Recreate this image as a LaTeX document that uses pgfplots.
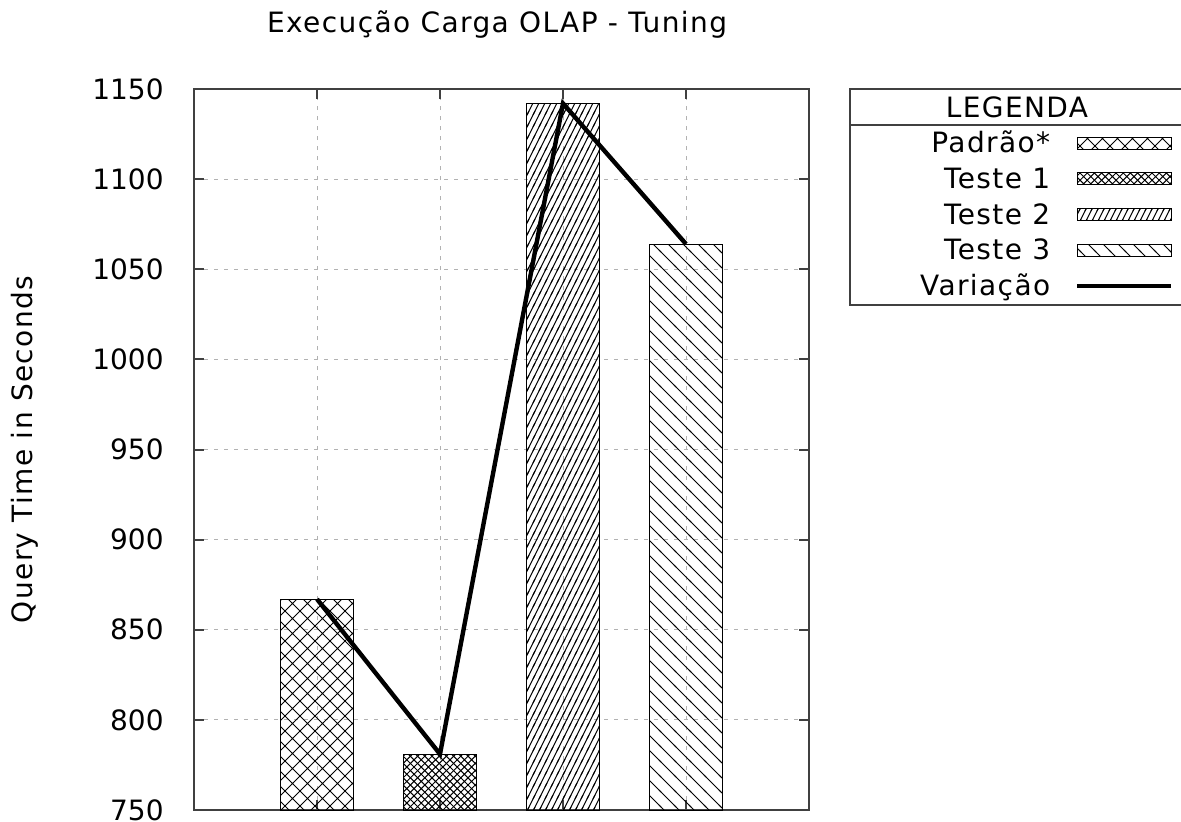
\documentclass[border=0pt]{standalone}
\usepackage{fontspec}
\setmainfont{DejaVu Sans}
\newfontfamily\spaced{DejaVu Sans}[LetterSpace=5]
\usepackage{pgfplots}
\pgfplotsset{compat=1.18}
\usetikzlibrary{patterns}

% hatch patterns, gnuplot style
\pgfdeclarepatternformonly{xwide}{\pgfqpoint{-1pt}{-1pt}}{\pgfqpoint{8.5pt}{8.5pt}}{\pgfqpoint{7.5pt}{7.5pt}}{%
  \pgfsetlinewidth{0.5pt}%
  \pgfpathmoveto{\pgfqpoint{0pt}{0pt}}\pgfpathlineto{\pgfqpoint{7.5pt}{7.5pt}}%
  \pgfpathmoveto{\pgfqpoint{0pt}{7.5pt}}\pgfpathlineto{\pgfqpoint{7.5pt}{0pt}}%
  \pgfusepath{stroke}}
\pgfdeclarepatternformonly{xfine}{\pgfqpoint{-1pt}{-1pt}}{\pgfqpoint{4.6pt}{4.6pt}}{\pgfqpoint{3.6pt}{3.6pt}}{%
  \pgfsetlinewidth{0.5pt}%
  \pgfpathmoveto{\pgfqpoint{0pt}{0pt}}\pgfpathlineto{\pgfqpoint{3.6pt}{3.6pt}}%
  \pgfpathmoveto{\pgfqpoint{0pt}{3.6pt}}\pgfpathlineto{\pgfqpoint{3.6pt}{0pt}}%
  \pgfusepath{stroke}}
\pgfdeclarepatternformonly{nesteep}{\pgfqpoint{-1pt}{-1pt}}{\pgfqpoint{4pt}{7pt}}{\pgfqpoint{3pt}{6pt}}{%
  \pgfsetlinewidth{0.5pt}%
  \pgfpathmoveto{\pgfqpoint{-0.5pt}{-1pt}}\pgfpathlineto{\pgfqpoint{3.5pt}{7pt}}%
  \pgfusepath{stroke}}
\pgfdeclarepatternformonly{nwwide}{\pgfqpoint{-1pt}{-1pt}}{\pgfqpoint{8.5pt}{8.5pt}}{\pgfqpoint{7.5pt}{7.5pt}}{%
  \pgfsetlinewidth{0.5pt}%
  \pgfpathmoveto{\pgfqpoint{-0.5pt}{8pt}}\pgfpathlineto{\pgfqpoint{8pt}{-0.5pt}}%
  \pgfusepath{stroke}}

\newcommand{\fs}{\fontsize{14}{16}\selectfont}
\newcommand{\ft}{\spaced\fontsize{14}{16}\selectfont}
\newcommand{\ls}{\rule[-3.5pt]{0pt}{14.5pt}}

\pgfplotsset{
  barleg/.style={legend image code/.code={\draw[##1] (0pt,-3pt) rectangle (47pt,3pt);}},
  lineleg/.style={legend image code/.code={\draw[##1] (0pt,0pt) -- (47pt,0pt);}},
  gbar/.style={ybar, bar width=0.6, bar shift=0pt, draw=black, line width=0.5pt, barleg},
}

\begin{document}
\begin{tikzpicture}
\begin{axis}[
  scale only axis, width=307.5pt, height=360.5pt,
  xmin=0, xmax=5, ymin=750, ymax=1150,
  xtick={1,2,3,4}, xticklabels={},
  ytick={750,800,...,1150},
  tick align=inside, major tick length=5pt,
  grid=major, grid style={gray!60, line width=0.5pt, dash pattern=on 2pt off 3pt},
  axis line style={line width=1pt, black!75},
  every tick/.style={line width=1pt, black!75},
  /pgf/number format/assume math mode=true,
  /pgf/number format/set thousands separator={},
  yticklabel style={font=\fs, inner sep=0pt, xshift=-15pt},
  ylabel={Query Time in Seconds},
  ylabel style={at={(-0.2748,0.5)}, anchor=center, font=\ft},
  title={Execução Carga OLAP - Tuning},
  title style={at={(0.4927,1.0721)}, anchor=center, yshift=0pt, font=\ft},
  clip mode=individual,
  legend style={at={(1.5935,0.9485)}, anchor=north east, draw=none, fill=none,
    inner sep=0pt, row sep=1.4pt, font=\ft,
    /tikz/every odd column/.append style={column sep=10.5pt}},
  legend cell align=right, legend plot pos=right,
]
\addplot[gbar, pattern=xwide] coordinates {(1,867)};
\addlegendentry{\ls Padrão*}
\addplot[gbar, pattern=xfine] coordinates {(2,781)};
\addlegendentry{\ls Teste 1}
\addplot[gbar, pattern=nesteep] coordinates {(3,1142)};
\addlegendentry{\ls Teste 2}
\addplot[gbar, pattern=nwwide] coordinates {(4,1064)};
\addlegendentry{\ls Teste 3}
\addplot[black, line width=2.2pt, mark=none, lineleg] coordinates {
(1,867)
(2,781)
(3,1142)
(4,1064)
};
\addlegendentry{\ls Variação}

% legend frame and header
\draw[line width=1pt, black!75] (rel axis cs:1.0667,1) rectangle (rel axis cs:1.6098,0.7004);
\draw[line width=1pt, black!75] (rel axis cs:1.0667,0.9501) -- (rel axis cs:1.6098,0.9501);
\node[font=\ft, inner sep=0pt] at (rel axis cs:1.3382,0.975) {LEGENDA};
\coordinate (O) at (rel axis cs:0,0);
\end{axis}
\pgfresetboundingbox
\path[use as bounding box] ([shift={(-97pt,-5.5pt)}]O) rectangle ++(590.5pt,410.5pt);
\end{tikzpicture}
\end{document}
